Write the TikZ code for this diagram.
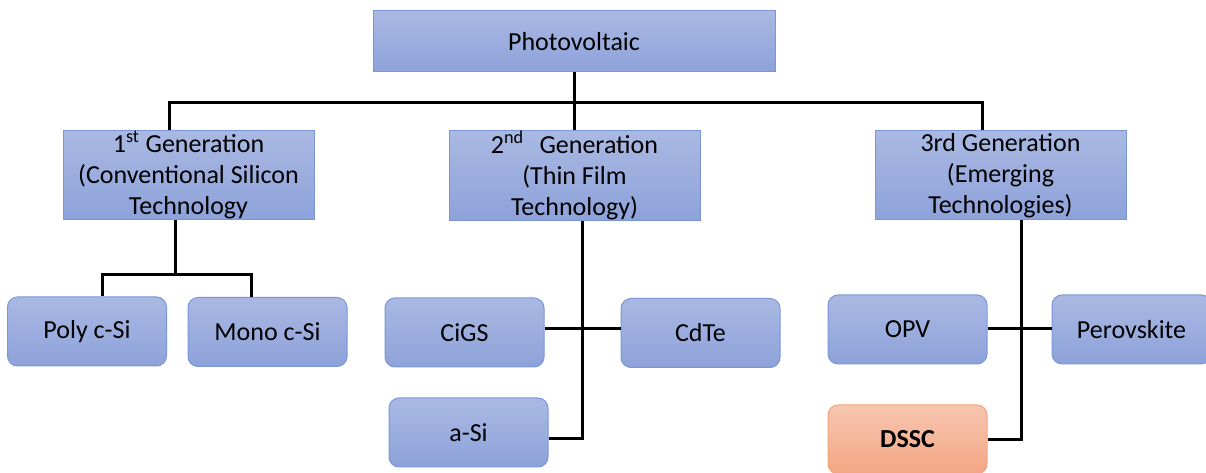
\documentclass[tikz,border=0pt]{standalone}
\usepackage{fontspec}
\setmainfont{Carlito}
\definecolor{bluetop}{HTML}{AAB9E3}
\definecolor{bluebot}{HTML}{8DA2DA}
\definecolor{blueline}{HTML}{7A96D8}
\definecolor{peachtop}{HTML}{F7C6B0}
\definecolor{peachbot}{HTML}{F3A684}
\definecolor{peachline}{HTML}{F2A47C}
\begin{document}
\begin{tikzpicture}[x=0.75pt,y=-0.75pt,
  box/.style={draw=blueline, line width=0.75pt, top color=bluetop, bottom color=bluebot,
    align=center, inner sep=0pt, font=\fontsize{19.5}{23.2}\selectfont},
  genbox/.style={box, minimum width=188.25pt, minimum height=66.75pt},
  leaf/.style={box, rounded corners=7.5pt, minimum width=119.25pt, minimum height=51.75pt},
  hilite/.style={draw=peachline, top color=peachtop, bottom color=peachbot},
  link/.style={line width=2.25pt, draw=black}]
\clip (0,0) rectangle (1206,473);

% root and the three generations
\node[box, minimum width=301.5pt, minimum height=45.75pt] (pv) at (574,41.5) {Photovoltaic};
\node[genbox] (g1) at (188.5,175) {1\textsuperscript{st} Generation\\(Conventional Silicon\\Technology};
\node[genbox] (g2) at (574.5,175.5) {2\textsuperscript{nd}\hspace*{0.6em}Generation\\(Thin Film\\Technology)};
\node[genbox] (g3) at (1000.5,175.5) {3rd Generation\\(Emerging\\Technologies)};

% technologies
\node[leaf] (poly) at (87,331.5) {Poly c-Si};
\node[leaf] (mono) at (267.5,332) {Mono c-Si};
\node[leaf] (cigs) at (464.5,332.5) {CiGS};
\node[leaf] (cdte) at (700.5,333) {CdTe};
\node[leaf] (asi) at (468.5,432.5) {a-Si};
\node[leaf] (opv) at (907.5,329.5) {OPV};
\node[leaf] (pero) at (1131.5,329.5) {Perovskite};
\node[leaf, hilite] (dssc) at (907.5,439.5) {\bfseries DSSC};

% junction points
\coordinate (b1) at (169,103);
\coordinate (b3) at (982,103);
\coordinate (t1) at (175,275);
\coordinate (p1) at (102,275);
\coordinate (m1) at (251,275);
\coordinate (h2) at (582,329);
\coordinate (s2) at (582,439);
\coordinate (h3) at (1021,329);
\coordinate (s3) at (1021,440);

% top bus
\draw[link] (pv.south) -- (pv.south |- b1);
\draw[link] (b1 |- g1.north) -- (b1) -- (b3) -- (b3 |- g3.north);
\draw[link] (g2.north) -- (g2.north |- b1);

% first generation
\draw[link] (t1 |- g1.south) -- (t1);
\draw[link] (p1 |- poly.north) -- (p1) -- (m1) -- (m1 |- mono.north);

% second generation
\draw[link] (s2 |- g2.south) -- (s2) -- (s2 -| asi.east);
\draw[link] (h2 -| cigs.east) -- (h2 -| cdte.west);

% third generation
\draw[link] (s3 |- g3.south) -- (s3) -- (s3 -| dssc.east);
\draw[link] (h3 -| opv.east) -- (h3 -| pero.west);
\end{tikzpicture}
\end{document}
